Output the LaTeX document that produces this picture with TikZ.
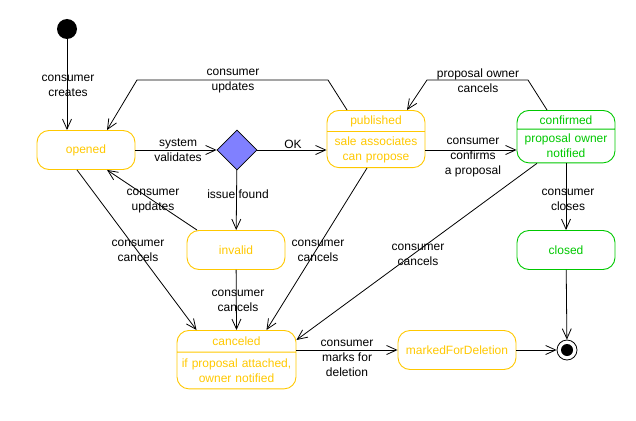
\documentclass[tikz,border=0pt]{standalone}
\usepackage{fontspec}
\setmainfont{Liberation Sans}
\usetikzlibrary{arrows.meta,shapes.geometric,shapes.multipart,calc}

\definecolor{stateYellow}{RGB}{255,200,0}
\definecolor{stateGreen}{RGB}{0,200,0}
\definecolor{choiceBlue}{RGB}{128,128,255}

\tikzset{
  state/.style={draw, rounded corners=12pt, line width=0.9pt, align=center,
    minimum width=98pt, minimum height=39pt, inner sep=0pt},
  statesplit/.style={draw, rounded corners=12pt, line width=0.9pt, align=center,
    rectangle split, rectangle split parts=2, inner xsep=5pt, inner ysep=4.5pt},
  yel/.style={draw=stateYellow, text=stateYellow},
  grn/.style={draw=stateGreen, text=stateGreen},
  trans/.style={draw, line width=0.8pt, -{Straight Barb[length=10pt,width=9pt]}},
  lbl/.style={align=center, inner sep=0pt},
  choice/.style={diamond, draw, fill=choiceBlue, line width=0.8pt, minimum size=40pt, inner sep=0pt}
}

\begin{document}
\begin{tikzpicture}[x=1pt, y=-1pt, font=\fontsize{12}{15}\selectfont]
  \useasboundingbox (0,0) rectangle (636,420);

  % Pseudo states
  \node [circle, fill=black, minimum size=20pt, inner sep=0pt] (init) at (67,29) {};
  \node [circle, draw, line width=0.8pt, minimum size=20pt, inner sep=0pt] (final) at (567,350) {};
  \node [circle, fill=black, minimum size=12pt, inner sep=0pt] (finalDot) at (567,350) {};

  % States
  \node [state, yel] (opened) at (86,150) {opened};
  \node [choice] (check) at (237,150) {};
  \node [statesplit, yel, text width=88pt, anchor=north] (published) at (376,110)
    {published \nodepart{two} sale associates\\can propose};
  \node [statesplit, grn, text width=88pt, anchor=north] (confirmed) at (566,110)
    {confirmed \nodepart{two} proposal owner\\notified};
  \node [state, yel] (invalid) at (236,250) {invalid};
  \node [state, grn] (closed) at (566,250) {closed};
  \node [statesplit, yel, text width=117pt, inner xsep=1pt, inner ysep=6pt, anchor=north] (canceled) at (236.5,330)
    {canceled \nodepart{two} if proposal attached,\\owner notified};
  \node [state, yel, minimum width=118pt] (marked) at (457,350) {markedForDeletion};

  % Transitions
  \path [trans] (init) -- (init |- opened.north);
  \path [trans] ([xshift=-29pt]published.north) -- ++(-19,-30) -- (137,80) -- ([xshift=21pt]opened.north);
  \path [trans] (opened) -- (check);
  \path [trans] (check) -- (published.west |- check);
  \path [trans] (check) -- (invalid);
  \path [trans] ([xshift=-39pt]invalid.north) -- ([xshift=21pt]opened.south);
  \path [trans] ([xshift=-9pt]opened.south) -- ([xshift=-40pt]canceled.north);
  \path [trans] (invalid) -- (canceled.north);
  \path [trans] ([xshift=-9pt]published.south) -- ([xshift=30pt]canceled.north);
  \path [trans] ([xshift=-29pt]confirmed.south) -- ([yshift=-10pt]canceled.north east);
  \path [trans] (published.east |- check) -- (confirmed.west |- check);
  \path [trans] ([xshift=-19pt]confirmed.north) -- ++(-19,-30) -- (427,80) -- ([xshift=31pt]published.north);
  \path [trans] (confirmed.south) -- (closed.north);
  \path [trans] (closed) -- (final);
  \path [trans] (canceled.east |- marked.west) -- (marked.west);
  \path [trans] (marked) -- (final);

  % Labels
  \node [lbl] (lCreates) at (68,86) {consumer\\creates};
  \node [lbl] (lUpdatesTop) at (233,81) {consumer\\updates};
  \node [lbl] (lValidates) at (178,150) {system\\validates};
  \node [lbl] (lOk) at (293,144) {OK};
  \node [lbl] (lIssue) at (238,194) {issue found};
  \node [lbl] (lUpdates) at (153,201) {consumer\\updates};
  \node [lbl] (lCancelsA) at (138,251) {consumer\\cancels};
  \node [lbl] (lCancelsB) at (318,251) {consumer\\cancels};
  \node [lbl] (lCancelsC) at (418,255) {consumer\\cancels};
  \node [lbl] (lCancelsD) at (238,301) {consumer\\cancels};
  \node [lbl] (lConfirms) at (473,158) {consumer\\confirms\\a proposal};
  \node [lbl] (lOwner) at (478,81) {proposal owner\\cancels};
  \node [lbl] (lCloses) at (568,200) {consumer\\closes};
  \node [lbl] (lMarks) at (347,358) {consumer\\marks for\\deletion};
\end{tikzpicture}
\end{document}
